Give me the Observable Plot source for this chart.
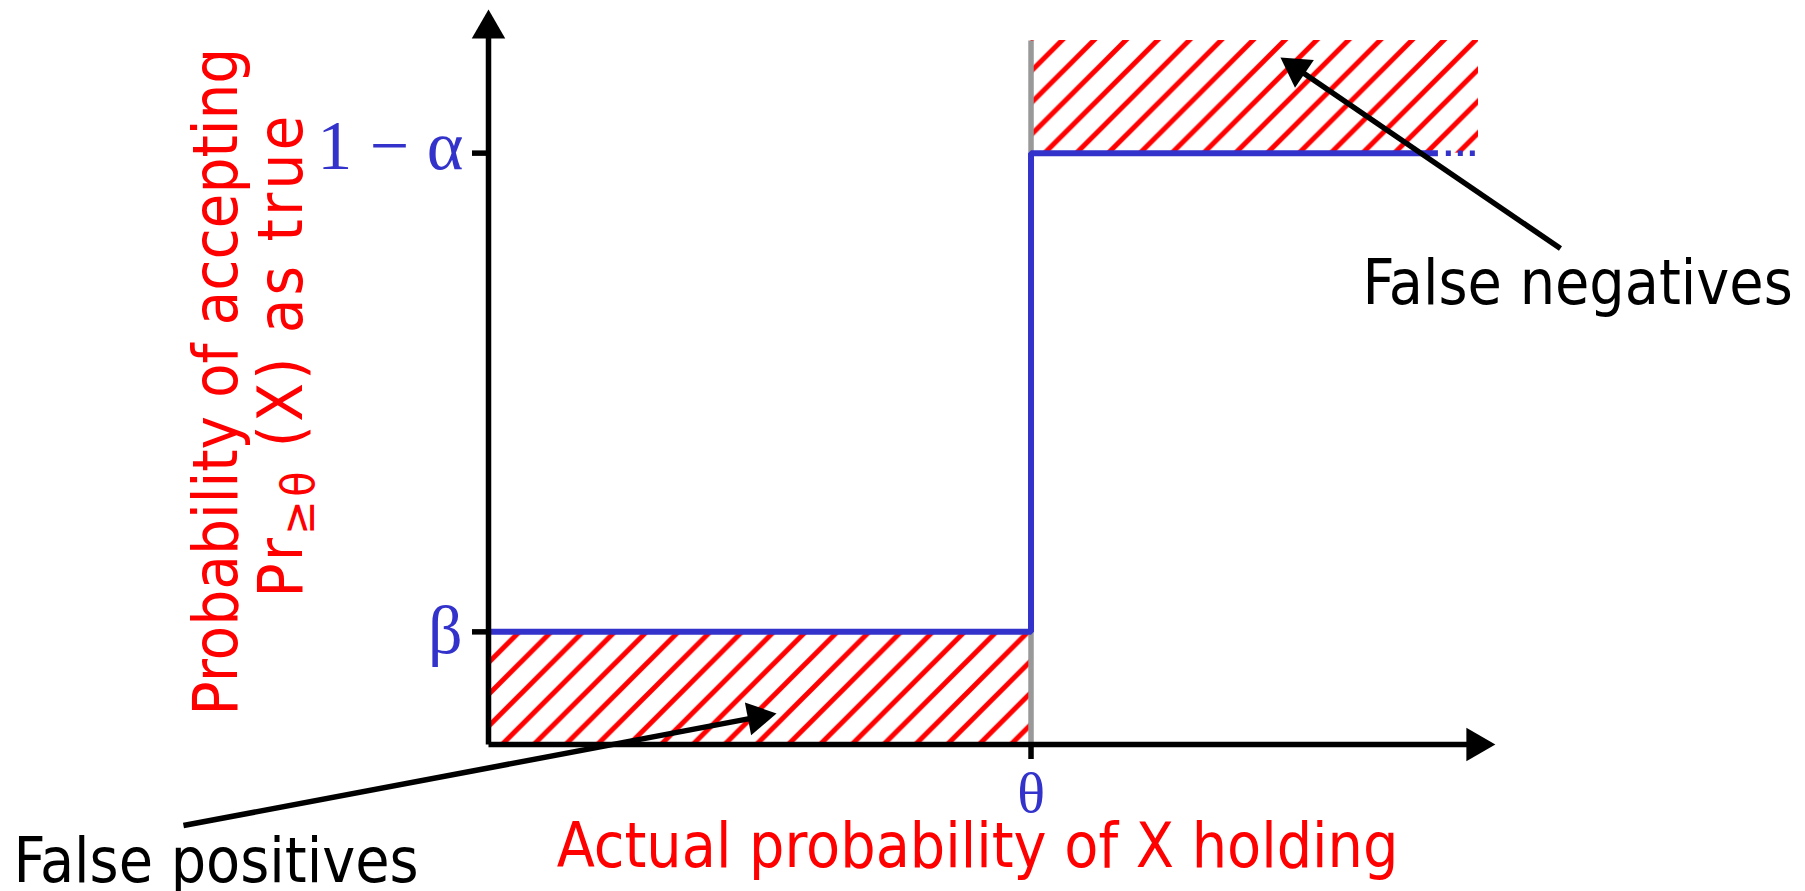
<!DOCTYPE html>
<html>
<head>
<meta charset="utf-8">
<script src="https://cdn.jsdelivr.net/npm/d3@7"></script>
<script src="https://cdn.jsdelivr.net/npm/@observablehq/plot@0.6"></script>
<style>
  html, body { margin: 0; padding: 0; background: #ffffff; }
  #chart svg { display: block; }
</style>
</head>
<body>
<div id="chart"></div>
<script>
// ---------------- data ----------------
const theta = 0.548;            // threshold on the x axis
const beta = 0.16;              // acceptance probability below theta
const oneMinusAlpha = 0.84;     // acceptance probability above theta

const yTickValues = [beta, oneMinusAlpha];
const yTickLabels = ["β", "1 − α"];
const xTickValues = [theta];
const xTickLabels = ["θ"];

// acceptance curve (step), solid part then dotted tail
const stepX = [0, theta, theta, 0.959];
const stepY = [beta, beta, oneMinusAlpha, oneMinusAlpha];
const dottedX = [0.967, 0.997];
const dottedY = [oneMinusAlpha, oneMinusAlpha];

// error regions (hatched)
const regionNames = ["False positives", "False negatives"];
const regionX1 = [0, theta];
const regionX2 = [theta, 1];
const regionY1 = [0, oneMinusAlpha];
const regionY2 = [beta, 1];

// axis arrows (data units)
const axisStartX = [0, 0];
const axisStartY = [0, 0];
const axisEndX = [0, 1.017];
const axisEndY = [1.044, 0];

// annotations
const noteLabels = ["False negatives", "False positives"];
const noteX = [0.8828, -0.4798];
const noteY = [0.6264, -0.196];
const noteTailX = [1.0828, -0.3081];
const noteTailY = [0.7045, -0.1151];
const noteTipX = [0.800, 0.2909];
const noteTipY = [0.9759, 0.044];

const xLabel = ["Actual probability of X holding"];
const xLabelX = [0.494];
const xLabelY = [-0.1733];
const yLabelLines = ["Probability of accepting", "Pr≥θ (X) as true"];
const yLabelX = [-0.2545, -0.1879];
const yLabelY = [0.5156, 0.5511];

// ---------------- layout / style ----------------
const W = 1805, H = 891;
const margin = {top: 40, right: 327, bottom: 147, left: 488};
const RED = "#ff0000", BLUE = "#3333cc", GREY = "#999999";
const SANS = "'DejaVu Sans Condensed', 'Liberation Sans', sans-serif";
const SERIF = "'Liberation Serif', 'DejaVu Serif', serif";

const xs = d3.scaleLinear([0, 1], [margin.left, W - margin.right]);
const ys = d3.scaleLinear([0, 1], [H - margin.bottom, margin.top]);
const HEAD_BACK = 19.3;   // px from the tip of the triangle to its centroid
const HEAD_R = 12.44;

function head(tipX, tipY, fromX, fromY) {
  const px = xs(tipX), py = ys(tipY);
  const vx = px - xs(fromX), vy = py - ys(fromY);
  const len = Math.hypot(vx, vy);
  const ux = vx / len, uy = vy / len;
  return {
    x: xs.invert(px - ux * HEAD_BACK),
    y: ys.invert(py - uy * HEAD_BACK),
    angle: Math.atan2(ux, -uy) * 180 / Math.PI
  };
}

const step = stepX.map((x, i) => ({x, y: stepY[i]}));
const dotted = dottedX.map((x, i) => ({x, y: dottedY[i]}));
const regions = regionNames.map((name, i) => ({
  name, x1: regionX1[i], x2: regionX2[i], y1: regionY1[i], y2: regionY2[i]
}));

const arrows = [];
axisEndX.forEach((ex, i) => arrows.push({
  x1: axisStartX[i], y1: axisStartY[i], tip: [ex, axisEndY[i]]
}));
noteTipX.forEach((tx, i) => arrows.push({
  x1: noteTailX[i], y1: noteTailY[i], tip: [tx, noteTipY[i]]
}));
arrows.forEach(a => {
  const h = head(a.tip[0], a.tip[1], a.x1, a.y1);
  a.hx = h.x; a.hy = h.y; a.angle = h.angle;
});

const notes = noteLabels.map((t, i) => ({t, x: noteX[i], y: noteY[i]}));
const yLabels = yLabelLines.map((t, i) => ({t, x: yLabelX[i], y: yLabelY[i]}));

const plot = Plot.plot({
  width: W,
  height: H,
  marginTop: margin.top,
  marginRight: margin.right,
  marginBottom: margin.bottom,
  marginLeft: margin.left,
  x: {domain: [0, 1]},
  y: {domain: [0, 1]},
  style: {background: "#ffffff", overflow: "visible"},
  marks: [
    // hatched error regions
    Plot.rect([regions[0]], {x1: "x1", x2: "x2", y1: "y1", y2: "y2", fill: "url(#hatch-0)"}),
    Plot.rect([regions[1]], {x1: "x1", x2: "x2", y1: "y1", y2: "y2", fill: "url(#hatch-1)"}),
    // grey threshold line
    Plot.link(xTickValues, {x1: d => d, x2: d => d, y1: () => 0, y2: () => 1,
      stroke: GREY, strokeWidth: 5.5}),
    // acceptance curve
    Plot.line(step, {x: "x", y: "y", stroke: BLUE, strokeWidth: 6,
      strokeLinejoin: "miter", strokeLinecap: "butt"}),
    Plot.line(dotted, {x: "x", y: "y", stroke: BLUE, strokeWidth: 5.5,
      strokeDasharray: "5,7", strokeLinecap: "butt"}),
    // tick marks
    Plot.axisY({ticks: yTickValues, tickSize: 16, strokeWidth: 5.5, tickFormat: () => "", label: null}),
    Plot.axisX({ticks: xTickValues, tickSize: 15, strokeWidth: 5.5, tickFormat: () => "", label: null}),
    // axes and annotation shafts
    Plot.link(arrows, {x1: "x1", y1: "y1", x2: "hx", y2: "hy", stroke: "black",
      strokeWidth: 5.5, strokeLinecap: "butt"}),
    // arrow heads
    Plot.dot(arrows, {x: "hx", y: "hy", symbol: "triangle", r: HEAD_R, rotate: "angle",
      fill: "black", stroke: "none"}),
    // tick labels
    Plot.text([yTickLabels[1]], {x: () => 0, y: () => yTickValues[1], text: d => d,
      textAnchor: "end", lineAnchor: "bottom", dx: -25, dy: 16,
      fontSize: 70, fontFamily: SERIF, fill: BLUE}),
    Plot.text([yTickLabels[0]], {x: () => 0, y: () => yTickValues[0], text: d => d,
      textAnchor: "end", lineAnchor: "bottom", dx: -26, dy: 21,
      fontSize: 68, fontFamily: SERIF, fill: BLUE}),
    Plot.text(xTickLabels, {x: () => xTickValues[0], y: () => 0, text: d => d,
      textAnchor: "middle", lineAnchor: "bottom", dy: 67,
      fontSize: 58, fontFamily: SERIF, fill: BLUE}),
    // annotation labels
    Plot.text(notes, {x: "x", y: "y", text: "t", textAnchor: "start", lineAnchor: "bottom",
      fontSize: 62, fontFamily: SANS, fill: "black"}),
    // axis titles
    Plot.text(xLabel, {x: (d, i) => xLabelX[i], y: (d, i) => xLabelY[i], text: d => d,
      textAnchor: "middle", lineAnchor: "bottom", fontSize: 62, fontFamily: SANS, fill: RED}),
    Plot.text(yLabels, {x: "x", y: "y", text: "t", rotate: -90, textAnchor: "middle",
      lineAnchor: "bottom", fontSize: 63, fontFamily: SANS, fill: RED})
  ]
});

// hatch patterns anchored at each region's top-left corner
const NS = "http://www.w3.org/2000/svg";
const P = 31.8;
const defs = document.createElementNS(NS, "defs");
const sx = plot.scale("x"), sy = plot.scale("y");
regions.forEach((r, i) => {
  const pat = document.createElementNS(NS, "pattern");
  pat.setAttribute("id", "hatch-" + i);
  pat.setAttribute("patternUnits", "userSpaceOnUse");
  pat.setAttribute("x", sx.apply(r.x1));
  pat.setAttribute("y", sy.apply(r.y2));
  pat.setAttribute("width", P);
  pat.setAttribute("height", P);
  const path = document.createElementNS(NS, "path");
  path.setAttribute("d", `M-4,4L4,-4M0,${P}L${P},0M${P - 4},${P + 4}L${P + 4},${P - 4}`);
  path.setAttribute("stroke", RED);
  path.setAttribute("stroke-width", 5);
  path.setAttribute("fill", "none");
  pat.appendChild(path);
  defs.appendChild(pat);
});
plot.insertBefore(defs, plot.firstChild);

// subscript in the second y label line
plot.querySelectorAll("text").forEach(t => {
  if (t.textContent === yLabelLines[1]) {
    const parts = [["Pr", null], ["≥θ", 12, 46], [" (X) as true", -12]];
    t.textContent = "";
    parts.forEach(([s, dy, fs]) => {
      const sp = document.createElementNS(NS, "tspan");
      sp.textContent = s;
      if (dy != null) sp.setAttribute("dy", dy);
      if (fs) sp.setAttribute("font-size", fs);
      t.appendChild(sp);
    });
    t.setAttribute("textLength", 482);
    t.setAttribute("lengthAdjust", "spacing");
  }
});

document.getElementById("chart").appendChild(plot);
</script>
</body>
</html>
